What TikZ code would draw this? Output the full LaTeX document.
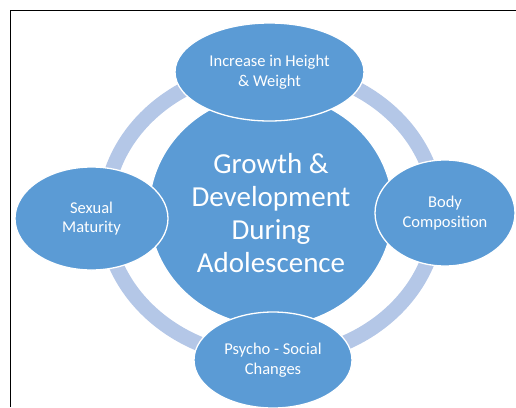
\documentclass[tikz,border=0pt]{standalone}
\usepackage{fontspec}
\setmainfont{Carlito}
\usetikzlibrary{shapes.geometric}
\definecolor{topicblue}{HTML}{5B9BD5}
\definecolor{ringblue}{HTML}{B4C7E7}
\tikzset{
  topic/.style={ellipse, fill=topicblue, draw=white, line width=1.3pt,
    inner sep=0pt, text=white, align=center},
  outer/.style={topic, font=\fontsize{16.5}{19.5}\selectfont},
  hubtext/.style={text=white, align=center, inner sep=0pt,
    font=\fontsize{29}{33}\selectfont},
  frameline/.style={draw=black, line width=1pt}
}
\begin{document}
\begin{tikzpicture}[x=1pt, y=-1pt]
  \useasboundingbox (0,0) rectangle (516,407);
  % frame edges
  \draw[frameline] (10.5,407) -- (10.5,10.5) -- (516,10.5);
  % cycle ring behind the topics
  \node[ellipse, draw=ringblue, line width=15pt, minimum width=332pt,
        minimum height=290pt, inner sep=0pt] (ring) at (271,213) {};
  % central topic
  \node[topic, minimum width=244pt, minimum height=232pt] (hub) at (271,210) {};
  \node[hubtext] (hublabel) at ([yshift=-3.5pt]hub.center)
    {Growth \&\\Development\\During\\Adolescence};
  % surrounding topics
  \node[outer, minimum width=189pt, minimum height=98pt] (height) at (269.5,72)
    {Increase in Height\\\& Weight};
  \node[outer, minimum width=140pt, minimum height=106pt] (body) at (445,213)
    {Body\\Composition};
  \node[outer, minimum width=158pt, minimum height=96pt] (psycho) at (273,360)
    {Psycho - Social\\Changes};
  \node[outer, minimum width=153pt, minimum height=103pt] (sexual) at (91.5,218.5)
    {Sexual\\Maturity};
\end{tikzpicture}
\end{document}
